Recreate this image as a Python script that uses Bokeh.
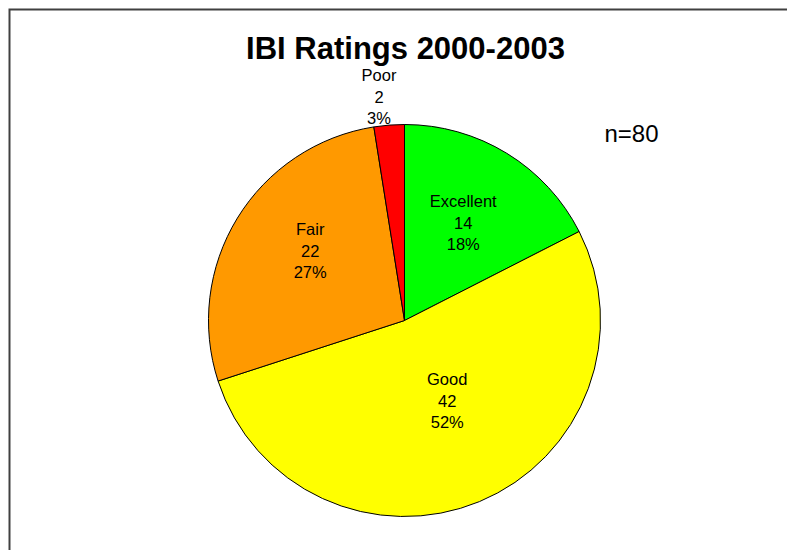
import math
from bokeh.plotting import figure
from bokeh.models import Range1d, Label, ColumnDataSource
from bokeh.core.properties import value
from bokeh.embed import file_html
from bokeh.resources import INLINE

# ---- data ----
categories = ["Excellent", "Good", "Fair", "Poor"]
counts = [14, 42, 22, 2]
percent_labels = ["18%", "52%", "27%", "3%"]
colors = ["#00FF00", "#FFFF00", "#FF9900", "#FF0000"]
title_text = "IBI Ratings 2000-2003"
n_text = "n=80"

# ---- layout ----
W, H = 787, 550
p = figure(width=W, height=H, output_backend="svg", toolbar_location=None,
           x_range=Range1d(0, W), y_range=Range1d(0, H), min_border=0)
p.axis.visible = False
p.grid.visible = False
p.outline_line_color = None
p.background_fill_color = "white"
p.border_fill_color = "white"

cx, cy, R = 404, 230, 196
total = sum(counts)
starts, ends, mids = [], [], []
acc = 0.0
for c in counts:
    a0 = 90 - 360 * acc / total
    acc += c
    a1 = 90 - 360 * acc / total
    starts.append(math.radians(a0))
    ends.append(math.radians(a1))
    mids.append((a0 + a1) / 2)

src = ColumnDataSource(dict(start=starts, end=ends, color=colors))
p.wedge(x=cx, y=cy, radius=R, start_angle="start", end_angle="end",
        direction="clock", fill_color="color", line_color="black",
        line_width=1, source=src)

# label placement (radius px, angular nudge deg)
label_r = [114, 91, 117, 225]
label_nudge = [0.5, 5.5, -4.8, 2.0]
lx, ly = [], []
for m, r, d in zip(mids, label_r, label_nudge):
    a = math.radians(m + d)
    lx.append(cx + r * math.cos(a))
    ly.append(cy + r * math.sin(a))

count_str = [str(c) for c in counts]
for rows, off in ((categories, 22), (count_str, 0), (percent_labels, -21)):
    p.text(x=lx, y=[v + off for v in ly], text=rows,
           text_font=value("Liberation Sans"), text_font_size="16.5px",
           text_align="center", text_baseline="middle", text_color="black")

p.add_layout(Label(x=cx + 1, y=502, text=title_text, text_font="Liberation Sans",
                   text_font_size="31px", text_font_style="bold",
                   text_align="center", text_baseline="middle", text_color="black"))
p.add_layout(Label(x=604, y=417, text=n_text, text_font="Liberation Sans",
                   text_font_size="24px", text_align="left",
                   text_baseline="middle", text_color="black"))

# chart frame (left and top edges visible in the window)
p.line(x=[9, 9, W + 5], y=[-5, H - 9, H - 9], line_color="#404040",
       line_width=2, line_join="miter")

open("out.html", "w").write(file_html(p, INLINE))
